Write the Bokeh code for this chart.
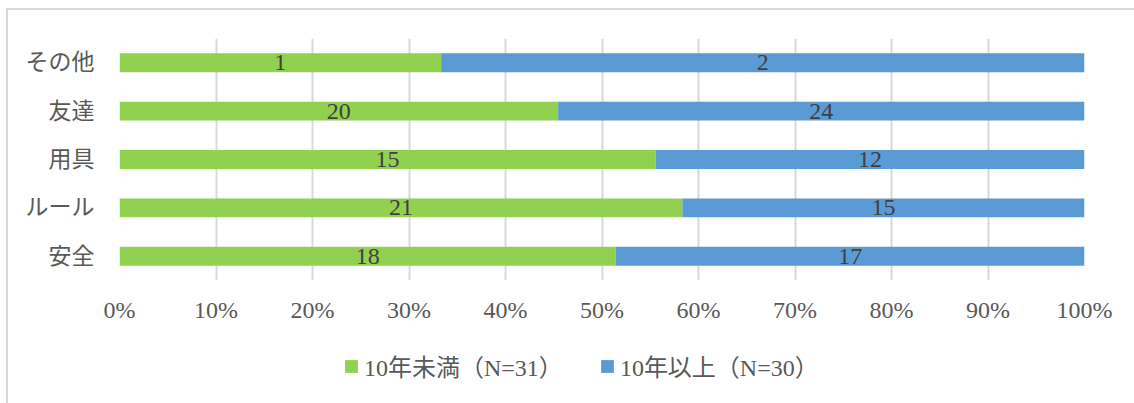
from bokeh.plotting import figure
from bokeh.layouts import column
from bokeh.models import ColumnDataSource, Legend, LegendItem, FactorRange, Range1d, NumeralTickFormatter, FixedTicker
from bokeh.embed import file_html
from bokeh.resources import INLINE
from bokeh.core.properties import value

categories = ["安全", "ルール", "用具", "友達", "その他"]
under10 = [18, 21, 15, 20, 1]
over10 = [17, 15, 12, 24, 2]
series_names = ["10年未満（N=31）", "10年以上（N=30）"]
x_ticks = [0, 0.1, 0.2, 0.3, 0.4, 0.5, 0.6, 0.7, 0.8, 0.9, 1.0]

GREEN = "#92D050"
BLUE = "#5B9BD5"
FONT = "Liberation Serif, Noto Sans CJK JP"

tot = [a + b for a, b in zip(under10, over10)]
f_under = [a / t for a, t in zip(under10, tot)]
f_over = [b / t for b, t in zip(over10, tot)]

src = ColumnDataSource(dict(
    cat=categories,
    under=f_under,
    over=f_over,
    under_mid=[u / 2 for u in f_under],
    over_mid=[u + o / 2 for u, o in zip(f_under, f_over)],
    under_lbl=[str(v) for v in under10],
    over_lbl=[str(v) for v in over10],
))

p = figure(width=1126, height=330, y_range=FactorRange(*categories, range_padding=0),
           x_range=Range1d(0, 1), output_backend="svg", toolbar_location=None,
           min_border_left=111, min_border_right=50, min_border_top=28, min_border_bottom=60)
p.outline_line_color = None

rs = p.hbar_stack(["under", "over"], y="cat", height=0.39, color=[GREEN, BLUE], source=src,
                  line_color=None)

p.text(x="under_mid", y="cat", text="under_lbl", source=src, text_align="center",
       text_baseline="middle", text_font=value(FONT), text_font_size="24px", text_color="#404040")
p.text(x="over_mid", y="cat", text="over_lbl", source=src, text_align="center",
       text_baseline="middle", text_font=value(FONT), text_font_size="24px", text_color="#404040")

p.xaxis.ticker = FixedTicker(ticks=x_ticks)
p.xaxis.formatter = NumeralTickFormatter(format="0%")
p.xaxis.axis_line_color = None
p.xaxis.major_tick_line_color = None
p.xaxis.minor_tick_line_color = None
p.xaxis.major_label_standoff = 10
p.xaxis.major_label_text_font = FONT
p.xaxis.major_label_text_font_size = "24px"
p.xaxis.major_label_text_color = "#595959"

p.yaxis.axis_line_color = None
p.yaxis.major_tick_line_color = None
p.yaxis.major_label_standoff = 19
p.yaxis.major_label_text_font = FONT
p.yaxis.major_label_text_font_size = "23px"
p.yaxis.major_label_text_color = "#595959"

p.ygrid.grid_line_color = None
p.xgrid.grid_line_color = "#d9d9d9"
p.xgrid.grid_line_width = 2

# legend panel (its frame is aligned with the main frame by the column layout)
lp = figure(width=1126, height=63, x_range=Range1d(0, 1), y_range=Range1d(0, 1),
            output_backend="svg", toolbar_location=None, min_border=0,
            x_axis_type=None, y_axis_type=None)
lp.outline_line_color = None
lp.xgrid.visible = False
lp.ygrid.visible = False
# swatch renderers kept far outside the visible range; only their legend glyphs show
r1 = lp.hbar(y=[-50], left=[50], right=[60], height=0.1, color=GREEN, line_color=None)
r2 = lp.hbar(y=[-50], left=[50], right=[60], height=0.1, color=BLUE, line_color=None)

legend = Legend(items=[LegendItem(label=series_names[0], renderers=[r1]),
                       LegendItem(label=series_names[1], renderers=[r2])],
                orientation="horizontal", location=(224, 20))
legend.label_text_font = FONT
legend.label_text_font_size = "24px"
legend.label_text_color = "#595959"
legend.glyph_width = 16
legend.glyph_height = 16
legend.label_standoff = 5
legend.spacing = 36
legend.border_line_color = None
legend.background_fill_alpha = 0
legend.margin = 0
legend.padding = 0
lp.add_layout(legend, "center")

layout = column(p, lp, spacing=0)
layout.margin = (8, 0, 0, 6)
layout.styles = {"border-left": "2px solid #d9d9d9", "border-top": "2px solid #d9d9d9"}

open("out.html", "w").write(file_html(layout, INLINE))
